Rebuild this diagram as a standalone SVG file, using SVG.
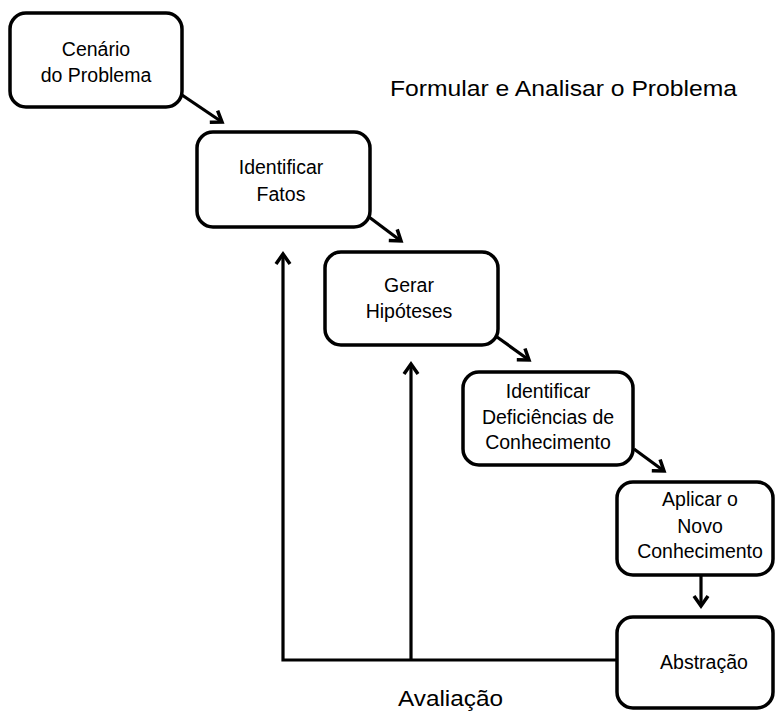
<svg xmlns="http://www.w3.org/2000/svg" width="777" height="711" viewBox="0 0 777 711">
<style>
.box{fill:#fff;stroke:#000;stroke-width:3.5}
.t{font-family:"Liberation Sans",Arial,sans-serif;font-size:19.5px;fill:#000;text-anchor:middle}
.big{font-family:"Liberation Sans",Arial,sans-serif;font-size:22px;fill:#000}
.c{stroke:#000;stroke-width:3.2;fill:none}
</style>
<defs>
<marker id="ah" markerUnits="userSpaceOnUse" markerWidth="20" markerHeight="20" viewBox="-12 -10 14 20" refX="0" refY="0" orient="auto">
<path d="M-10,-7 L0,0 L-10,7" fill="none" stroke="#000" stroke-width="3.5" stroke-linejoin="miter"/>
</marker>
</defs>
<rect width="777" height="711" fill="#fff"/>
<g id="connectors">
<line class="c" x1="182" y1="95" x2="222" y2="122" marker-end="url(#ah)"/>
<line class="c" x1="369" y1="217" x2="401" y2="241" marker-end="url(#ah)"/>
<line class="c" x1="497" y1="337" x2="529" y2="360" marker-end="url(#ah)"/>
<line class="c" x1="634" y1="449" x2="664" y2="471" marker-end="url(#ah)"/>
<line class="c" x1="701" y1="575" x2="701" y2="606" marker-end="url(#ah)"/>
<polyline class="c" points="617,660 283,660 283,254" marker-end="url(#ah)"/>
<line class="c" x1="411" y1="660" x2="411" y2="364" marker-end="url(#ah)"/>
</g>
<g id="cenario">
<rect class="box" x="10" y="13" width="172" height="94" rx="16"/>
<text class="t" x="96" y="56">Cenário</text>
<text class="t" x="96" y="82">do Problema</text>
</g>
<g id="identificar-fatos">
<rect class="box" x="197" y="132" width="173" height="95" rx="16"/>
<text class="t" x="281" y="174">Identificar</text>
<text class="t" x="281" y="201">Fatos</text>
</g>
<g id="gerar-hipoteses">
<rect class="box" x="325" y="252" width="173" height="93" rx="16"/>
<text class="t" x="409" y="292">Gerar</text>
<text class="t" x="409" y="318">Hipóteses</text>
</g>
<g id="deficiencias">
<rect class="box" x="463" y="372" width="170" height="93" rx="16"/>
<text class="t" x="548" y="398">Identificar</text>
<text class="t" x="548" y="424">Deficiências de</text>
<text class="t" x="548" y="449">Conhecimento</text>
</g>
<g id="aplicar">
<rect class="box" x="617" y="482" width="156" height="93" rx="16"/>
<text class="t" x="700" y="506">Aplicar o</text>
<text class="t" x="700" y="533">Novo</text>
<text class="t" x="700" y="558">Conhecimento</text>
</g>
<g id="abstracao">
<rect class="box" x="617" y="617" width="156" height="91" rx="16"/>
<text class="t" x="704" y="669">Abstração</text>
</g>
<text class="big" x="390" y="96" textLength="347" lengthAdjust="spacingAndGlyphs">Formular e Analisar o Problema</text>
<text class="big" x="398" y="706" textLength="105" lengthAdjust="spacingAndGlyphs">Avaliação</text>
</svg>
